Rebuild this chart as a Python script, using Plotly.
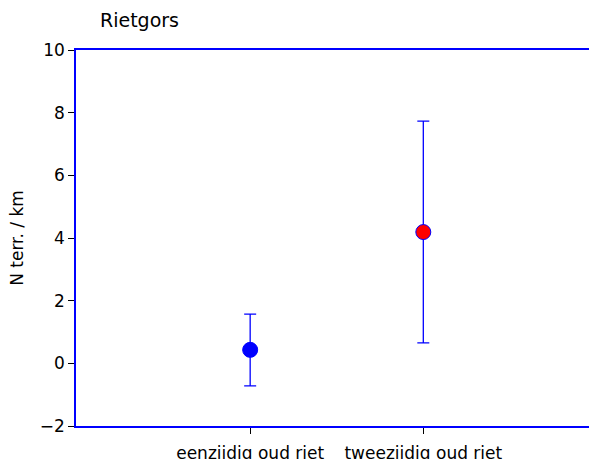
import plotly.graph_objects as go

categories = ["eenzijdig oud riet", "tweezijdig oud riet"]
means = [0.43, 4.19]
upper = [1.57, 7.73]
lower = [-0.72, 0.65]
fill_colors = ["#0000ff", "#ff0000"]
y_ticks = [-2, 0, 2, 4, 6, 8, 10]

err_plus = [u - m for u, m in zip(upper, means)]
err_minus = [m - l for m, l in zip(means, lower)]

fig = go.Figure()
fig.add_trace(go.Scatter(
    x=[0, 1], y=means, mode="markers",
    marker=dict(size=15, color=fill_colors, line=dict(color="#0000ff", width=1)),
    error_y=dict(type="data", symmetric=False, array=err_plus, arrayminus=err_minus,
                 color="#0000ff", thickness=1.3, width=6),
    showlegend=False,
))

font_family = "DejaVu Sans, Verdana, sans-serif"
fig.update_layout(
    width=589, height=459,
    margin=dict(l=76, r=0, t=50, b=33, autoexpand=False),
    paper_bgcolor="white", plot_bgcolor="white",
    font=dict(family=font_family, size=17, color="black"),
    title=dict(text="Rietgors", x=100/589, xanchor="left", y=1 - 20/459, yanchor="middle",
               font=dict(size=19, family=font_family, color="black")),
    xaxis=dict(range=[-1.006, 1.957], tickmode="array", tickvals=[0, 1], ticktext=categories,
               showgrid=False, zeroline=False, showline=True, linecolor="#0000ff", linewidth=1.5,
               mirror=True, ticks="outside", ticklen=6, tickcolor="black", tickwidth=1,
               ticklabelstandoff=5, automargin=False),
    yaxis=dict(range=[-2, 10], tickvals=y_ticks, showgrid=False, zeroline=False,
               showline=True, linecolor="#0000ff", linewidth=1.5, mirror=True,
               ticks="outside", ticklen=6, tickcolor="black", tickwidth=1,
               automargin=False,
               title=dict(text="N terr. / km", standoff=12, font=dict(size=17))),
)

fig.write_html("out.html", config={"displayModeBar": False},
               post_script="document.body.style.margin='0';document.body.style.overflow='hidden';")
